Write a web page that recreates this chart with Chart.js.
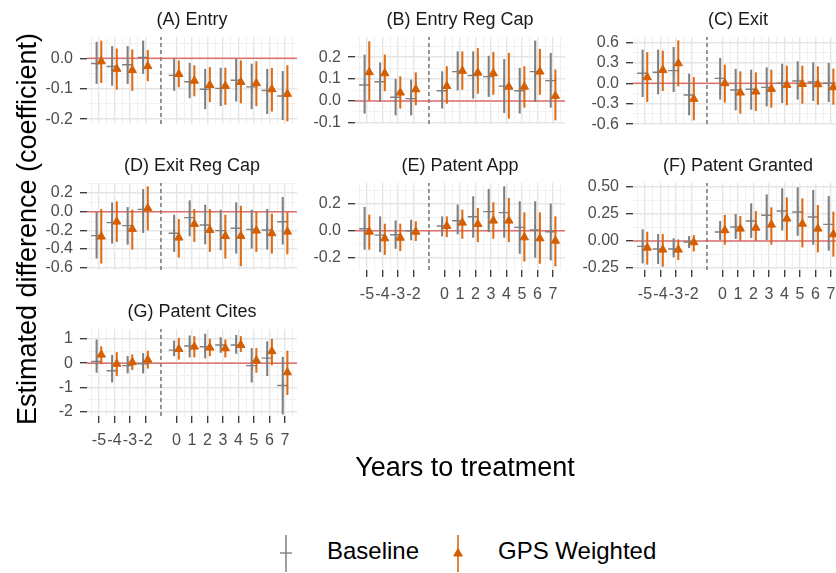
<!DOCTYPE html>
<html>
<head>
<meta charset="utf-8">
<script src="https://cdn.jsdelivr.net/npm/chart.js@4/dist/chart.umd.min.js"></script>
<style>
  html, body { margin: 0; padding: 0; background: #ffffff; overflow: hidden; width: 836px; height: 573px; }
  #wrap { position: relative; width: 836px; height: 573px; overflow: hidden; font-family: 'Liberation Sans', Arial, sans-serif; }
  #wrap canvas { position: absolute; }
  .strip { position: absolute; width: 260px; height: 20px; line-height: 20px; font-size: 18px; color: #1a1a1a; text-align: center; white-space: nowrap; }
  .axis-title { position: absolute; font-size: 27px; color: #000; text-align: center; white-space: nowrap; height: 32px; line-height: 32px; }
  .legend-text { position: absolute; font-size: 24px; color: #000; white-space: nowrap; height: 28px; line-height: 28px; }
  .legend-key { position: absolute; }
</style>
</head>
<body>
<div id="wrap"></div>
<script>
// Event-study estimates: one point per year relative to treatment (year -1 is the reference year)
const years = [-5, -4, -3, -2, 0, 1, 2, 3, 4, 5, 6, 7];
const yearLabels = ['-5', '-4', '-3', '-2', '0', '1', '2', '3', '4', '5', '6', '7'];
const seriesNames = ['Baseline', 'GPS Weighted'];

// (A) Entry
const entryBase   = [-0.017, -0.027, -0.021, 0.003, -0.056, -0.077, -0.102, -0.099, -0.072, -0.094, -0.106, -0.124];
const entryBaseLo = [-0.083, -0.089, -0.083, -0.050, -0.106, -0.130, -0.166, -0.156, -0.141, -0.166, -0.182, -0.202];
const entryBaseHi = [0.053, 0.039, 0.039, 0.057, -0.002, -0.016, -0.036, -0.032, -0.002, -0.019, -0.036, -0.043];
const entryGps    = [-0.010, -0.035, -0.039, -0.026, -0.052, -0.074, -0.088, -0.091, -0.078, -0.082, -0.102, -0.117];
const entryGpsLo  = [-0.080, -0.102, -0.106, -0.074, -0.094, -0.124, -0.143, -0.152, -0.147, -0.156, -0.174, -0.206];
const entryGpsHi  = [0.057, 0.031, 0.028, 0.026, -0.008, -0.024, -0.030, -0.032, -0.008, -0.011, -0.033, -0.024];

// (B) Entry Reg Cap
const entryCapBase   = [0.073, 0.088, 0.017, 0.011, 0.047, 0.134, 0.116, 0.111, 0.068, 0.047, 0.134, 0.093];
const entryCapBaseLo = [-0.056, -0.003, -0.064, -0.064, -0.033, 0.050, 0.012, 0.020, -0.053, -0.056, -0.003, -0.029];
const entryCapBaseHi = [0.210, 0.175, 0.099, 0.096, 0.134, 0.225, 0.225, 0.205, 0.190, 0.149, 0.274, 0.218];
const entryCapGps    = [0.131, 0.126, 0.038, 0.053, 0.068, 0.137, 0.129, 0.126, 0.065, 0.065, 0.134, 0.023];
const entryCapGpsLo  = [0.000, 0.046, -0.033, -0.018, -0.011, 0.053, 0.035, 0.030, -0.079, -0.029, 0.030, -0.087];
const entryCapGpsHi  = [0.271, 0.210, 0.111, 0.129, 0.157, 0.225, 0.240, 0.222, 0.218, 0.157, 0.236, 0.142];

// (C) Exit
const exitBase   = [0.147, 0.162, 0.186, -0.171, 0.073, -0.098, -0.088, -0.059, 0.000, 0.034, 0.020, 0.000];
const exitBaseLo = [-0.196, -0.157, -0.122, -0.465, -0.235, -0.392, -0.382, -0.333, -0.284, -0.235, -0.255, -0.269];
const exitBaseHi = [0.490, 0.490, 0.529, 0.137, 0.367, 0.206, 0.196, 0.230, 0.284, 0.318, 0.304, 0.294];
const exitGps    = [0.088, 0.196, 0.294, -0.230, 0.000, -0.137, -0.122, -0.083, -0.024, -0.010, -0.015, -0.059];
const exitGpsLo  = [-0.270, -0.108, -0.040, -0.539, -0.279, -0.441, -0.402, -0.353, -0.318, -0.294, -0.309, -0.309];
const exitGpsHi  = [0.455, 0.475, 0.627, 0.088, 0.269, 0.171, 0.157, 0.196, 0.255, 0.255, 0.245, 0.211];

// (D) Exit Reg Cap
const exitCapBase   = [-0.256, -0.117, -0.149, 0.025, -0.231, -0.064, -0.142, -0.203, -0.178, -0.189, -0.196, -0.107];
const exitCapBaseLo = [-0.498, -0.338, -0.349, -0.224, -0.427, -0.260, -0.345, -0.409, -0.445, -0.391, -0.402, -0.349];
const exitCapBaseHi = [0.000, 0.096, 0.046, 0.238, -0.036, 0.117, 0.071, 0.018, 0.096, 0.018, 0.025, 0.153];
const exitCapGps    = [-0.267, -0.107, -0.185, 0.036, -0.278, -0.132, -0.196, -0.260, -0.260, -0.203, -0.231, -0.214];
const exitCapGpsLo  = [-0.552, -0.320, -0.402, -0.196, -0.488, -0.320, -0.427, -0.498, -0.580, -0.427, -0.445, -0.452];
const exitCapGpsHi  = [0.025, 0.107, 0.018, 0.267, -0.082, 0.025, 0.025, -0.036, 0.060, 0.000, -0.025, 0.000];

// (E) Patent App
const appBase   = [0.015, -0.033, -0.030, 0.000, 0.035, 0.075, 0.105, 0.143, 0.135, 0.025, 0.005, -0.008];
const appBaseLo = [-0.140, -0.158, -0.133, -0.070, -0.040, -0.025, -0.050, -0.008, -0.050, -0.170, -0.200, -0.220];
const appBaseHi = [0.175, 0.105, 0.075, 0.080, 0.105, 0.193, 0.255, 0.310, 0.330, 0.218, 0.218, 0.200];
const appGps    = [-0.008, -0.058, -0.053, -0.008, 0.035, 0.060, 0.050, 0.075, 0.075, -0.050, -0.058, -0.075];
const appGpsLo  = [-0.140, -0.178, -0.150, -0.075, -0.045, -0.058, -0.083, -0.058, -0.083, -0.228, -0.245, -0.265];
const appGpsHi  = [0.118, 0.050, 0.050, 0.068, 0.105, 0.155, 0.168, 0.210, 0.243, 0.135, 0.135, 0.105];

// (F) Patent Granted
const grantBase   = [-0.049, -0.074, -0.074, -0.009, 0.083, 0.130, 0.185, 0.238, 0.278, 0.269, 0.222, 0.154];
const grantBaseLo = [-0.204, -0.210, -0.148, -0.062, 0.012, 0.022, 0.031, 0.012, 0.099, 0.052, -0.031, -0.086];
const grantBaseHi = [0.105, 0.062, 0.022, 0.043, 0.182, 0.247, 0.346, 0.429, 0.485, 0.494, 0.469, 0.414];
const grantGps    = [-0.062, -0.080, -0.080, -0.012, 0.099, 0.114, 0.123, 0.151, 0.207, 0.160, 0.114, 0.062];
const grantGpsLo  = [-0.216, -0.235, -0.173, -0.093, -0.031, 0.000, 0.000, -0.031, 0.000, -0.056, -0.102, -0.142];
const grantGpsHi  = [0.083, 0.062, 0.012, 0.052, 0.238, 0.228, 0.275, 0.309, 0.401, 0.392, 0.330, 0.269];

// (G) Patent Cites
const citeBase   = [0.07, -0.31, -0.10, -0.03, 0.54, 0.71, 0.68, 0.75, 0.75, -0.10, 0.21, -0.92];
const citeBaseLo = [-0.38, -0.78, -0.41, -0.41, 0.30, 0.25, 0.21, 0.44, 0.40, -0.78, -0.52, -2.10];
const citeBaseHi = [0.96, 0.33, 0.28, 0.40, 0.92, 1.13, 1.20, 1.06, 1.15, 0.61, 0.89, 0.25];
const citeGps    = [0.35, -0.03, 0.04, 0.14, 0.58, 0.68, 0.64, 0.61, 0.75, 0.11, 0.49, -0.38];
const citeGpsLo  = [-0.03, -0.52, -0.27, -0.21, 0.16, 0.25, 0.30, 0.25, 0.47, -0.38, -0.07, -1.30];
const citeGpsHi  = [0.68, 0.44, 0.35, 0.50, 1.03, 1.10, 1.00, 0.96, 1.10, 0.61, 0.99, 0.50];

// y-axis tick values and labels of each facet
const entryTicks = [0, -0.1, -0.2];           const entryTickLabels = ['0.0', '-0.1', '-0.2'];
const entryCapTicks = [0.2, 0.1, 0, -0.1];    const entryCapTickLabels = ['0.2', '0.1', '0.0', '-0.1'];
const exitTicks = [0.6, 0.3, 0, -0.3, -0.6];  const exitTickLabels = ['0.6', '0.3', '0.0', '-0.3', '-0.6'];
const exitCapTicks = [0.2, 0, -0.2, -0.4, -0.6]; const exitCapTickLabels = ['0.2', '0.0', '-0.2', '-0.4', '-0.6'];
const appTicks = [0.2, 0, -0.2];              const appTickLabels = ['0.2', '0.0', '-0.2'];
const grantTicks = [0.5, 0.25, 0, -0.25];     const grantTickLabels = ['0.50', '0.25', '0.00', '-0.25'];
const citeTicks = [1, 0, -1, -2];             const citeTickLabels = ['1', '0', '-1', '-2'];

// ---- layout and styling ----
const REF_YEAR = -1;
const DODGE = 0.15;
const X_MIN = -5.77, X_MAX = 7.77;
const COL_LEFT = [87, 355, 633];
const ROW_TOP = [37, 183, 329];
const PANEL_W = 210, PANEL_H = 87;
const Y_AXIS_W = 80, X_AXIS_H = 40, PAD = 12;

const GRAY = '#7f7f7f';
const ORANGE = '#D55E00';
const ORANGE_BAR = 'rgba(218,100,10,0.95)';
const ZERO_COLOR = 'rgba(222,90,90,0.85)';
const GRID_MAJOR = '#e6e6e6', GRID_MINOR = '#efefef';
const TICK_COLOR = '#333333', TICK_TEXT = '#4d4d4d';

Chart.defaults.font.family = "'Liberation Sans', Arial, sans-serif";

const panels = [
  { title: '(A) Entry', col: 0, row: 0, xAxis: false, yMin: -0.216, yMax: 0.070, ticks: entryTicks, tickLabels: entryTickLabels,
    base: [entryBase, entryBaseLo, entryBaseHi], gps: [entryGps, entryGpsLo, entryGpsHi] },
  { title: '(B) Entry Reg Cap', col: 1, row: 0, xAxis: false, yMin: -0.105, yMax: 0.292, ticks: entryCapTicks, tickLabels: entryCapTickLabels,
    base: [entryCapBase, entryCapBaseLo, entryCapBaseHi], gps: [entryCapGps, entryCapGpsLo, entryCapGpsHi] },
  { title: '(C) Exit', col: 2, row: 0, xAxis: false, yMin: -0.598, yMax: 0.681, ticks: exitTicks, tickLabels: exitTickLabels,
    base: [exitBase, exitBaseLo, exitBaseHi], gps: [exitGps, exitGpsLo, exitGpsHi] },
  { title: '(D) Exit Reg Cap', col: 0, row: 1, xAxis: false, yMin: -0.624, yMax: 0.307, ticks: exitCapTicks, tickLabels: exitCapTickLabels,
    base: [exitCapBase, exitCapBaseLo, exitCapBaseHi], gps: [exitCapGps, exitCapGpsLo, exitCapGpsHi] },
  { title: '(E) Patent App', col: 1, row: 1, xAxis: true, yMin: -0.294, yMax: 0.357, ticks: appTicks, tickLabels: appTickLabels,
    base: [appBase, appBaseLo, appBaseHi], gps: [appGps, appGpsLo, appGpsHi] },
  { title: '(F) Patent Granted', col: 2, row: 1, xAxis: true, yMin: -0.268, yMax: 0.537, ticks: grantTicks, tickLabels: grantTickLabels,
    base: [grantBase, grantBaseLo, grantBaseHi], gps: [grantGps, grantGpsLo, grantGpsHi] },
  { title: '(G) Patent Cites', col: 0, row: 2, xAxis: true, yMin: -2.18, yMax: 1.41, ticks: citeTicks, tickLabels: citeTickLabels,
    base: [citeBase, citeBaseLo, citeBaseHi], gps: [citeGps, citeGpsLo, citeGpsHi] }
];

// major breaks plus ggplot-style minor breaks halfway between them (and one step beyond each end)
function withMinor(values, labels, lo, hi) {
  const sorted = values.slice().sort((a, b) => a - b);
  const ext = sorted.slice();
  ext.unshift(sorted[0] - (sorted[1] - sorted[0]));
  ext.push(sorted[sorted.length - 1] + (sorted[sorted.length - 1] - sorted[sorted.length - 2]));
  const out = values.map((v, i) => ({ value: v, txt: labels[i], minor: false }));
  for (let i = 0; i < ext.length - 1; i++) {
    const m = (ext[i] + ext[i + 1]) / 2;
    if (m >= lo && m <= hi) out.push({ value: m, txt: '', minor: true });
  }
  return out.sort((a, b) => a.value - b.value);
}

const gridColor = ctx => (ctx.tick && ctx.tick.minor) ? GRID_MINOR : GRID_MAJOR;
const gridWidth = ctx => (ctx.tick && ctx.tick.minor) ? 0.9 : 1.4;
const tickColor = ctx => (ctx.tick && ctx.tick.minor) ? 'rgba(0,0,0,0)' : TICK_COLOR;

const wrap = document.getElementById('wrap');

function buildPanel(p) {
  const L = COL_LEFT[p.col], T = ROW_TOP[p.row];
  const w = Y_AXIS_W + PANEL_W + PAD;
  const h = PAD + PANEL_H + (p.xAxis ? X_AXIS_H : PAD);
  const cv = document.createElement('canvas');
  cv.width = w; cv.height = h;
  cv.style.left = (L - Y_AXIS_W) + 'px';
  cv.style.top = (T - PAD) + 'px';
  cv.style.width = w + 'px';
  cv.style.height = h + 'px';
  wrap.appendChild(cv);

  const strip = document.createElement('div');
  strip.className = 'strip';
  strip.textContent = p.title;
  strip.style.left = (L + PANEL_W / 2 - 130) + 'px';
  strip.style.top = (T - 28) + 'px';
  wrap.appendChild(strip);

  const [bEst, bLo, bHi] = p.base;
  const [gEst, gLo, gHi] = p.gps;
  const xTicks = withMinor(years, yearLabels, X_MIN, X_MAX);
  const yTicks = withMinor(p.ticks, p.tickLabels, p.yMin, p.yMax);

  const datasets = [
    { type: 'line', label: 'zero', data: [{ x: X_MIN, y: 0 }, { x: X_MAX, y: 0 }],
      borderColor: ZERO_COLOR, borderWidth: 1.5, pointRadius: 0, order: 20 },
    { type: 'line', label: 'reference year', data: [{ x: REF_YEAR, y: p.yMin }, { x: REF_YEAR, y: p.yMax }],
      borderColor: '#555555', borderWidth: 1.2, borderDash: [4, 3], pointRadius: 0, order: 21 },
    { type: 'bar', label: seriesNames[0] + ' CI', data: years.map((yr, i) => ({ x: yr - DODGE, y: [bLo[i], bHi[i]] })),
      backgroundColor: GRAY, borderWidth: 0, barThickness: 1.4, maxBarThickness: 1.4, grouped: false, order: 8 },
    { type: 'scatter', label: seriesNames[0], data: years.map((yr, i) => ({ x: yr - DODGE, y: bEst[i] })),
      pointStyle: 'cross', pointRadius: 5.5, pointBorderColor: GRAY, pointBackgroundColor: GRAY, pointBorderWidth: 1.4, order: 7 },
    { type: 'bar', label: seriesNames[1] + ' CI', data: years.map((yr, i) => ({ x: yr + DODGE, y: [gLo[i], gHi[i]] })),
      backgroundColor: ORANGE_BAR, borderWidth: 0, barThickness: 1.4, maxBarThickness: 1.4, grouped: false, order: 6 },
    { type: 'scatter', label: seriesNames[1], data: years.map((yr, i) => ({ x: yr + DODGE, y: gEst[i] })),
      pointStyle: 'triangle', pointRadius: 4.8, pointBorderColor: ORANGE, pointBackgroundColor: ORANGE, pointBorderWidth: 1, order: 5 }
  ];

  new Chart(cv, {
    type: 'scatter',
    data: { datasets },
    options: {
      responsive: false,
      animation: false,
      events: [],
      layout: { padding: { top: PAD, bottom: p.xAxis ? 0 : PAD, left: 0, right: PAD } },
      plugins: { legend: { display: false }, tooltip: { enabled: false }, title: { display: false } },
      scales: {
        x: {
          type: 'linear', min: X_MIN, max: X_MAX, offset: false,
          border: { display: false },
          grid: { color: gridColor, lineWidth: gridWidth, drawTicks: p.xAxis, tickLength: 7,
                  tickColor: tickColor, tickWidth: 1.3, offset: false },
          ticks: { display: p.xAxis, autoSkip: false, maxRotation: 0, minRotation: 0, padding: 8,
                   color: TICK_TEXT, font: { size: 16 },
                   callback: (v, i, t) => t[i].txt },
          afterBuildTicks: sc => { sc.ticks = xTicks.map(t => Object.assign({}, t)); },
          afterFit: sc => { sc.height = p.xAxis ? X_AXIS_H : 0; sc.paddingLeft = 0; sc.paddingRight = 0; }
        },
        y: {
          type: 'linear', min: p.yMin, max: p.yMax,
          border: { display: false },
          grid: { color: gridColor, lineWidth: gridWidth, drawTicks: true, tickLength: 7,
                  tickColor: tickColor, tickWidth: 1.3 },
          ticks: { autoSkip: false, padding: 7, color: TICK_TEXT, font: { size: 16 },
                   callback: (v, i, t) => t[i].txt },
          afterBuildTicks: sc => { sc.ticks = yTicks.map(t => Object.assign({}, t)); },
          afterFit: sc => { sc.width = Y_AXIS_W; sc.paddingTop = 0; sc.paddingBottom = 0; }
        }
      }
    }
  });
}

panels.forEach(buildPanel);

// axis titles
const yTitle = document.createElement('div');
yTitle.className = 'axis-title';
yTitle.textContent = 'Estimated difference (coefficient)';
yTitle.style.width = '600px';
yTitle.style.left = (27 - 300) + 'px';
yTitle.style.top = (229 - 16) + 'px';
yTitle.style.transform = 'rotate(-90deg)';
wrap.appendChild(yTitle);

const xTitle = document.createElement('div');
xTitle.className = 'axis-title';
xTitle.textContent = 'Years to treatment';
xTitle.style.width = '600px';
xTitle.style.left = (465 - 300) + 'px';
xTitle.style.top = '451px';
wrap.appendChild(xTitle);

// legend: key glyph = vertical interval with its point marker
function legendKey(cx, marker, color) {
  const ns = 'http://www.w3.org/2000/svg';
  const svg = document.createElementNS(ns, 'svg');
  svg.setAttribute('width', '24'); svg.setAttribute('height', '40');
  svg.setAttribute('class', 'legend-key');
  svg.style.left = (cx - 12) + 'px';
  svg.style.top = '534px';
  const line = document.createElementNS(ns, 'line');
  line.setAttribute('x1', '12'); line.setAttribute('x2', '12');
  line.setAttribute('y1', '1'); line.setAttribute('y2', '38');
  line.setAttribute('stroke', color); line.setAttribute('stroke-width', '1.5');
  svg.appendChild(line);
  if (marker === 'cross') {
    const h = document.createElementNS(ns, 'line');
    h.setAttribute('x1', '6'); h.setAttribute('x2', '18');
    h.setAttribute('y1', '19'); h.setAttribute('y2', '19');
    h.setAttribute('stroke', color); h.setAttribute('stroke-width', '1.4');
    svg.appendChild(h);
  } else {
    const tri = document.createElementNS(ns, 'polygon');
    tri.setAttribute('points', '12,14.5 16.3,22 7.7,22');
    tri.setAttribute('fill', color); tri.setAttribute('stroke', color); tri.setAttribute('stroke-width', '1');
    svg.appendChild(tri);
  }
  wrap.appendChild(svg);
}
function legendText(left, txt) {
  const d = document.createElement('div');
  d.className = 'legend-text';
  d.textContent = txt;
  d.style.left = left + 'px';
  d.style.top = '537px';
  wrap.appendChild(d);
}
legendKey(286, 'cross', GRAY);
legendText(327, seriesNames[0]);
legendKey(458, 'triangle', ORANGE);
legendText(498, seriesNames[1]);
</script>
</body>
</html>
